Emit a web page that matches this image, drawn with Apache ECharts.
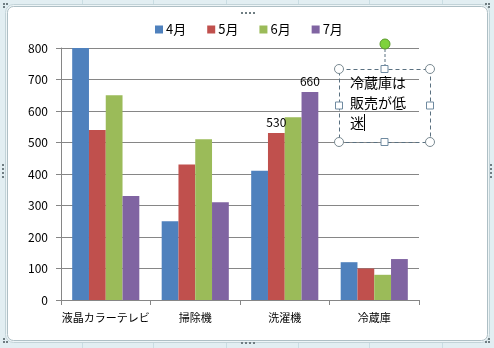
<!DOCTYPE html>
<html>
<head>
<meta charset="utf-8">
<script src="https://cdn.jsdelivr.net/npm/echarts@6/dist/echarts.min.js"></script>
<style>
  html, body { margin: 0; padding: 0; background: #e2eef2; }
  #chart { width: 494px; height: 348px; }
</style>
</head>
<body>
<div id="chart"></div>
<script>
// Monthly sales by product
const categories = ['液晶カラーテレビ', '掃除機', '洗濯機', '冷蔵庫'];
const months = ['4月', '5月', '6月', '7月'];
const sales4 = [800, 250, 410, 120];
const sales5 = [540, 430, 530, 100];
const sales6 = [650, 510, 580, 80];
const sales7 = [330, 310, 660, 130];
const yTicks = [0, 100, 200, 300, 400, 500, 600, 700, 800];
// Bars that carry a value label: [month index, category index]
const labeledBars = [[1, 2], [3, 2]];
const noteLines = ['冷蔵庫は', '販売が低', '迷'];

const colors = ['#4f81bd', '#c0504d', '#9bbb59', '#8064a2'];
const font = '"Noto Sans CJK JP", "DejaVu Sans", sans-serif';
const allSales = [sales4, sales5, sales6, sales7];

const series = allSales.map((vals, si) => ({
  name: months[si],
  type: 'bar',
  barGap: '0%',
  barCategoryGap: '25%',
  itemStyle: { color: colors[si] },
  data: vals.map((v, ci) => {
    const hasLabel = labeledBars.some(p => p[0] === si && p[1] === ci);
    return hasLabel
      ? { value: v, label: { show: true, position: 'top', distance: 5, color: '#000', fontSize: 12, fontFamily: font } }
      : v;
  })
}));

// Frame, sheet gridlines and selection handles around the chart object
const sheetLines = [82, 153, 226, 298, 369, 442].map(x => ({
  type: 'line', z: -20, silent: true,
  shape: { x1: x + 0.5, y1: 0, x2: x + 0.5, y2: 348 },
  style: { stroke: '#c9dde3', lineWidth: 1 }
}));
const dot = (x, y) => ({ type: 'rect', z: 50, silent: true, shape: { x: x, y: y, width: 2, height: 2 }, style: { fill: '#6f7d82' } });
const handleDots = [];
[[241, 12], [241, 342]].forEach(([x, y]) => { for (let i = 0; i < 4; i++) handleDots.push(dot(x + i * 4, y)); });
[[2, 164], [490, 164]].forEach(([x, y]) => { for (let i = 0; i < 4; i++) handleDots.push(dot(x, y + i * 4)); });
[[3, 3], [6, 3], [3, 6], [488, 3], [485, 3], [488, 6], [3, 341], [3, 338], [6, 341], [488, 341], [485, 341], [488, 338]].forEach(([x, y]) => handleDots.push(dot(x, y)));

// Selected text box
const box = { x: 339, y: 69, w: 91, h: 73 };
const circ = (cx, cy) => ({ type: 'circle', z: 60, silent: true, shape: { cx: cx, cy: cy, r: 4.5 }, style: { fill: '#fff', stroke: '#7a8a92', lineWidth: 1 } });
const sq = (cx, cy) => ({ type: 'rect', z: 60, silent: true, shape: { x: cx - 3.5, y: cy - 3.5, width: 7, height: 7 }, style: { fill: '#fff', stroke: '#6f8aa0', lineWidth: 1 } });
const boxGraphics = [
  { type: 'line', z: 55, silent: true, shape: { x1: box.x + box.w / 2 + 0.5, y1: 44, x2: box.x + box.w / 2 + 0.5, y2: box.y }, style: { stroke: '#5a7080', lineWidth: 1, lineDash: [3, 2] } },
  { type: 'rect', z: 55, silent: true, shape: { x: box.x + 0.5, y: box.y + 0.5, width: box.w, height: box.h }, style: { fill: 'rgba(255,255,255,0)', stroke: '#5a7080', lineWidth: 1, lineDash: [4, 3] } },
  circ(box.x, box.y), circ(box.x + box.w, box.y), circ(box.x, box.y + box.h), circ(box.x + box.w, box.y + box.h),
  sq(box.x + box.w / 2, box.y), sq(box.x + box.w / 2, box.y + box.h), sq(box.x, box.y + box.h / 2), sq(box.x + box.w, box.y + box.h / 2),
  { type: 'circle', z: 60, silent: true, shape: { cx: box.x + box.w / 2 + 0.5, cy: 44, r: 5 }, style: { fill: '#7ed23c', stroke: '#5a9a2a', lineWidth: 1 } },
  { type: 'text', z: 58, silent: true, left: 350, top: 73,
    style: { text: noteLines.join('\n'), fill: '#000', fontSize: 14, lineHeight: 20, fontFamily: font } },
  { type: 'line', z: 58, silent: true, shape: { x1: 364.5, y1: 114, x2: 364.5, y2: 131 }, style: { stroke: '#000', lineWidth: 1 } }
];

const chart = echarts.init(document.getElementById('chart'), null, { renderer: 'canvas' });
chart.setOption({
  animation: false,
  textStyle: { fontFamily: font },
  color: colors,
  legend: {
    left: 150, top: 18,
    itemWidth: 8, itemHeight: 8, itemGap: 21,
    icon: 'rect',
    textStyle: { fontSize: 13, color: '#000', fontFamily: font, padding: [0, 0, 0, -2] },
    data: months
  },
  grid: { left: 61, right: 75, top: 48, bottom: 48, containLabel: false },
  xAxis: {
    type: 'category',
    data: categories,
    axisLine: { lineStyle: { color: '#868686' } },
    axisTick: { show: true, length: 5, lineStyle: { color: '#868686' } },
    axisLabel: { color: '#000', fontSize: 11, margin: 12, fontFamily: font, interval: 0 }
  },
  yAxis: {
    type: 'value',
    min: yTicks[0], max: yTicks[yTicks.length - 1], interval: yTicks[1] - yTicks[0],
    axisLine: { show: true, lineStyle: { color: '#868686' } },
    axisTick: { show: true, length: 5, lineStyle: { color: '#868686' } },
    splitLine: { lineStyle: { color: '#868686' } },
    axisLabel: { color: '#000', fontSize: 12, margin: 13, fontFamily: font }
  },
  series: series,
  graphic: [
    { type: 'rect', z: -15, silent: true, shape: { x: 7.5, y: 6.5, width: 480, height: 334, r: 6 }, style: { fill: '#fff', stroke: '#aebfc5', lineWidth: 1 } },
    { type: 'rect', z: -16, silent: true, shape: { x: 5.5, y: 4.5, width: 484, height: 338, r: 8 }, style: { fill: '#eef5f7', stroke: '#c2d3d8', lineWidth: 1 } }
  ].concat(sheetLines, handleDots, boxGraphics)
});
</script>
</body>
</html>
